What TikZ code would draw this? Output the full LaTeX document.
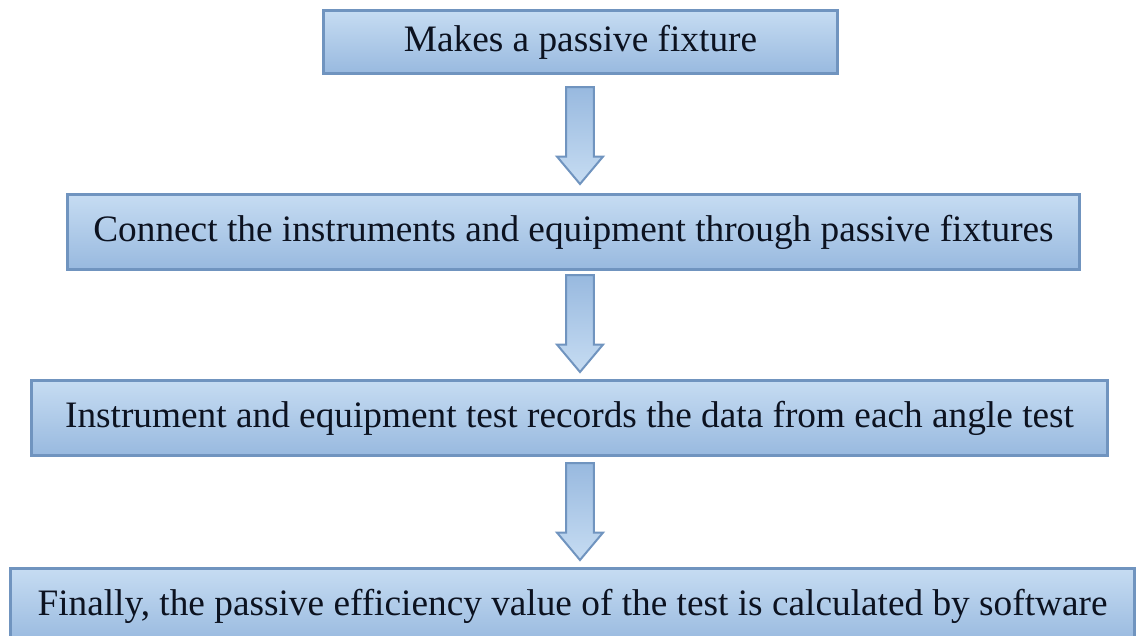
\documentclass[tikz,border=0pt]{standalone}
\usepackage{fontspec}
\setmainfont{Liberation Serif}
\usetikzlibrary{shapes.arrows,calc}
\definecolor{boxtop}{HTML}{C6DCF2}
\definecolor{boxbot}{HTML}{98B9DF}
\definecolor{boxedge}{HTML}{7094BF}
\definecolor{txt}{HTML}{0C1220}
\tikzset{
  stepbox/.style={draw=boxedge, line width=3pt, top color=boxtop, bottom color=boxbot,
    inner sep=0pt, text=txt, font=\fontsize{37.3}{41}\selectfont, anchor=north west},
  blockarrow/.style={shape=single arrow, draw=boxedge, line width=2pt,
    left color=boxbot, right color=boxtop, shading angle=0,
    rotate=-90, minimum height=97pt, minimum width=46pt, inner sep=10pt,
    single arrow tip angle=80, anchor=tail}
}
\begin{document}
\begin{tikzpicture}[x=1pt,y=-1pt]
\useasboundingbox (0,0) rectangle (1145,635);
\clip (0,0) rectangle (1145,635);
\node[stepbox, minimum width=514pt, minimum height=63pt] (b1) at (322,9) {Makes a passive fixture};
\node[stepbox, minimum width=1012pt, minimum height=75pt] (b2) at (66,193) {Connect the instruments and equipment through passive fixtures};
\node[stepbox, minimum width=1076pt, minimum height=75pt] (b3) at (30,379) {Instrument and equipment test records the data from each angle test};
\node[stepbox, minimum width=1124pt, minimum height=75pt] (b4) at (9,567) {Finally, the passive efficiency value of the test is calculated by software};
\path let \p1=($(b1.south)+(0,11)$) in node[blockarrow] (a1) at (580,\y1) {};
\path let \p1=($(b2.south)+(0,3)$) in node[blockarrow] (a2) at (580,\y1) {};
\path let \p1=($(b3.south)+(0,5)$) in node[blockarrow] (a3) at (580,\y1) {};
\end{tikzpicture}
\end{document}
